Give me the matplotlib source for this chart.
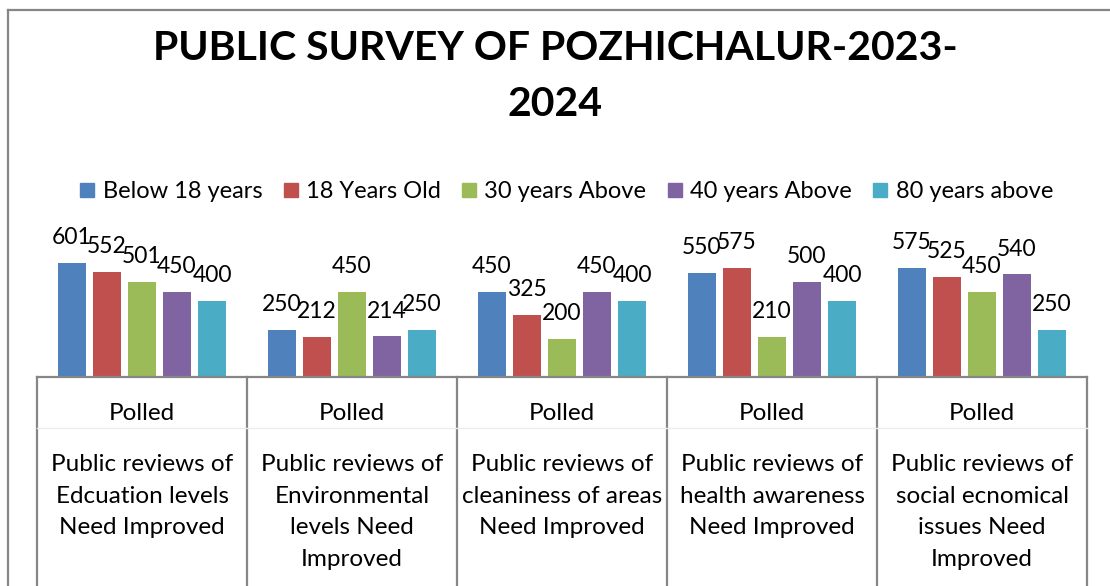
import matplotlib
matplotlib.use("Agg")
import matplotlib.pyplot as plt
from matplotlib.lines import Line2D
from matplotlib.transforms import blended_transform_factory

plt.rcParams["font.family"] = ["Lato", "DejaVu Sans"]

# ── data ──────────────────────────────────────────────
series = ["Below 18 years", "18 Years Old", "30 years Above",
          "40 years Above", "80 years above"]
colors = ["#4F81BD", "#C0504D", "#9BBB59", "#8064A2", "#4BACC6"]

inner_label = "Polled"
categories = [
    "Public reviews of\nEdcuation levels\nNeed Improved",
    "Public reviews of\nEnvironmental\nlevels Need\nImproved",
    "Public reviews of\ncleaniness of areas\nNeed Improved",
    "Public reviews of\nhealth awareness\nNeed Improved",
    "Public reviews of\nsocial ecnomical\nissues Need\nImproved",
]

below_18 = [601, 250, 450, 550, 575]
old_18   = [552, 212, 325, 575, 525]
above_30 = [501, 450, 200, 210, 450]
above_40 = [450, 214, 450, 500, 540]
above_80 = [400, 250, 400, 400, 250]
values = [below_18, old_18, above_30, above_40, above_80]

# ── figure ────────────────────────────────────────────
W, H = 1110, 586
fig = plt.figure(figsize=(W / 100, H / 100), dpi=100, facecolor="white")

def fx(px):
    return px / W

def fy(py):
    return 1 - py / H

# chart frame (cropped at right / bottom)
GRAY = "#868686"
fig.add_artist(Line2D([fx(8), fx(8)], [fy(10), 0], color=GRAY, lw=1.6))
fig.add_artist(Line2D([fx(8), 1], [fy(10), fy(10)], color=GRAY, lw=1.6))

AX_L, AX_R, AX_B, AX_T = 37, 1087, 377, 244
ax = fig.add_axes([fx(AX_L), fy(AX_B), fx(AX_R - AX_L), (AX_B - AX_T) / H])
ax.set_xlim(-0.5, 4.5)
ax.set_ylim(0, 700)

n = len(series)
bw = 28 / 210
for i, (name, vals, c) in enumerate(zip(series, values, colors)):
    xs = [k + (i - (n - 1) / 2) / 6 for k in range(len(vals))]
    ax.bar(xs, vals, width=bw, color=c, label=name, zorder=2)
    for x, v in zip(xs, vals):
        ax.annotate(str(v), (x, v), xytext=(0, 13.5), textcoords="offset points",
                    ha="center", va="baseline", fontsize=16.5, color="black")

for s in ["top", "left", "right"]:
    ax.spines[s].set_visible(False)
ax.spines["bottom"].set_color(GRAY)
ax.spines["bottom"].set_linewidth(1.6)
ax.set_xticks([])
ax.set_yticks([])
ax.patch.set_alpha(0)

# multi-level category axis
tr = blended_transform_factory(ax.transData, fig.transFigure)
for k in range(len(categories) + 1):
    x = k - 0.5
    fig.add_artist(Line2D([x, x], [fy(AX_B), 0], transform=tr, color=GRAY, lw=1.6))
fig.add_artist(Line2D([-0.5, 4.5], [fy(428), fy(428)], transform=tr,
                      color="#ececec", lw=1.0))
for k, cat in enumerate(categories):
    fig.text(k, fy(414), inner_label, transform=tr, ha="center", va="center",
             fontsize=17.5)
    fig.text(k, fy(454), cat, transform=tr, ha="center", va="top",
             fontsize=17.5, linespacing=1.62)

# title
fig.text(fx(555), fy(48), "PUBLIC SURVEY OF POZHICHALUR-2023-", ha="center",
         va="center", fontsize=29.5, fontweight="bold")
fig.text(fx(555), fy(105), "2024", ha="center", va="center",
         fontsize=29.5, fontweight="bold")

# legend
handles = [Line2D([], [], marker="s", linestyle="none", markersize=10,
                  markerfacecolor=c, markeredgecolor=c) for c in colors]
fig.legend(handles, series, loc="center", bbox_to_anchor=(fx(566), fy(192)),
           ncol=5, frameon=False, fontsize=17, handlelength=0.7,
           handletextpad=0.3, columnspacing=0.85, borderaxespad=0)

fig.savefig("out.png", dpi=100, facecolor="white")
